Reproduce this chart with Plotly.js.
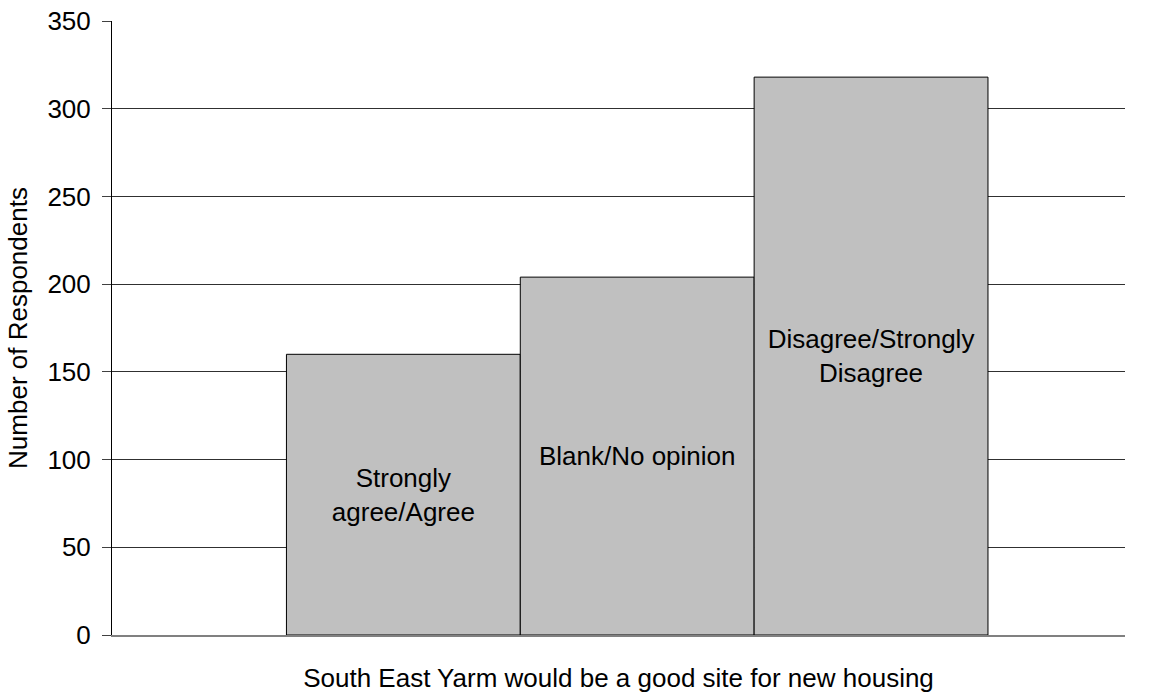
<!DOCTYPE html>
<html>
<head>
<meta charset="utf-8">
<script src="https://cdn.plot.ly/plotly-3.0.1.min.js"></script>
<style>
  html, body { margin: 0; padding: 0; background: #ffffff; }
  #chart { width: 1162px; height: 693px; }
</style>
</head>
<body>
<div id="chart"></div>
<script>
const categories = ["Strongly<br>agree/Agree", "Blank/No opinion", "Disagree/Strongly<br>Disagree"];
const respondents = [160, 204, 318];
const yTickValues = [0, 50, 100, 150, 200, 250, 300, 350];
const xTitle = "South East Yarm would be a good site for new housing";
const yTitle = "Number of Respondents";

const FONT = "Liberation Sans, Arial, Helvetica, sans-serif";

const trace = {
  type: "bar",
  x: categories,
  y: respondents,
  width: 1,
  text: categories,
  textposition: "inside",
  insidetextanchor: "middle",
  textangle: 0,
  constraintext: "none",
  textfont: { family: FONT, size: 26, color: "#000000" },
  marker: { color: "#c0c0c0", line: { color: "#000000", width: 1 } },
  hoverinfo: "x+y"
};

const layout = {
  width: 1162,
  height: 693,
  margin: { l: 112, r: 37, t: 21, b: 58 },
  paper_bgcolor: "#ffffff",
  plot_bgcolor: "#ffffff",
  showlegend: false,
  bargap: 0,
  font: { family: FONT, size: 26, color: "#000000" },
  xaxis: {
    type: "category",
    range: [-1.246, 3.086],
    showticklabels: false,
    ticks: "",
    showgrid: false,
    zeroline: false,
    showline: true,
    linecolor: "#808080",
    linewidth: 2,
    title: { text: xTitle, font: { family: FONT, size: 26, color: "#000000" }, standoff: 35 },
    automargin: false
  },
  yaxis: {
    range: [0, 350],
    tickvals: yTickValues,
    ticktext: yTickValues.map(String),
    ticks: "outside",
    ticklen: 9,
    tickcolor: "#404040",
    tickwidth: 1,
    ticklabelstandoff: 6,
    tickfont: { family: FONT, size: 26, color: "#000000" },
    showgrid: true,
    gridcolor: "#303030",
    gridwidth: 1,
    zeroline: false,
    showline: true,
    linecolor: "#000000",
    linewidth: 1,
    title: { text: yTitle, font: { family: FONT, size: 26, color: "#000000" }, standoff: 12 },
    automargin: false
  }
};

Plotly.newPlot("chart", [trace], layout, { staticPlot: true, displayModeBar: false });
</script>
</body>
</html>
